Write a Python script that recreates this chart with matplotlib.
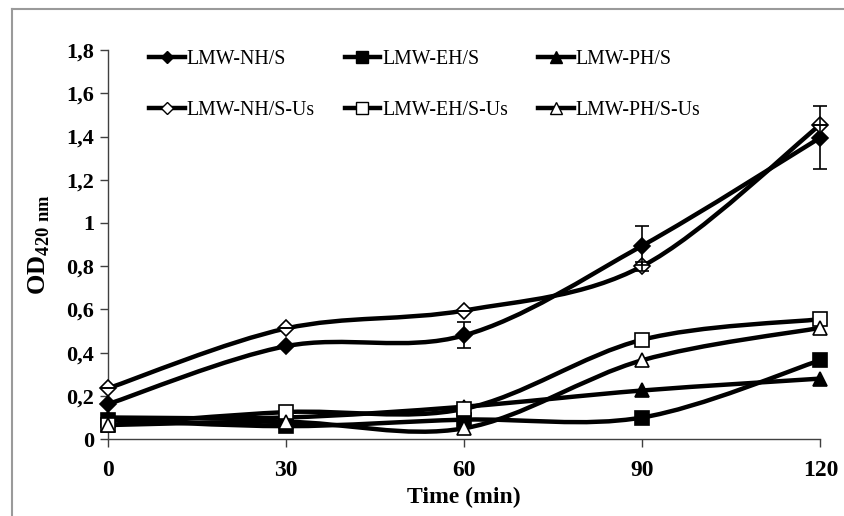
import numpy as np
import matplotlib
matplotlib.use("Agg")
import matplotlib.pyplot as plt
from matplotlib.path import Path
from matplotlib.patches import PathPatch
from matplotlib.lines import Line2D

plt.rcParams['font.family'] = ['Liberation Serif', 'DejaVu Serif']
plt.rcParams['mathtext.fontset'] = 'custom'
plt.rcParams['mathtext.rm'] = 'Liberation Serif'
plt.rcParams['mathtext.bf'] = 'Liberation Serif:bold'

time_min = [0, 30, 60, 90, 120]

nh_s = [0.162, 0.43, 0.48, 0.895, 1.395]
nh_s_err = [0.0, 0.0, 0.06, 0.09, 0.145]
eh_s = [0.09, 0.06, 0.09, 0.10, 0.365]
ph_s = [0.10, 0.10, 0.15, 0.225, 0.28]
nh_us = [0.235, 0.512, 0.595, 0.80, 1.455]
nh_us_err = [0.0, 0.0, 0.0, 0.02, 0.0]
eh_us = [0.065, 0.125, 0.14, 0.46, 0.555]
ph_us = [0.065, 0.08, 0.05, 0.365, 0.515]

labels = ['LMW-NH/S', 'LMW-EH/S', 'LMW-PH/S',
          'LMW-NH/S-Us', 'LMW-EH/S-Us', 'LMW-PH/S-Us']
yticks = [0, 0.2, 0.4, 0.6, 0.8, 1.0, 1.2, 1.4, 1.6, 1.8]
ytick_labels = ['0', '0,2', '0,4', '0,6', '0,8', '1', '1,2', '1,4', '1,6', '1,8']


def smooth_path(x, y):
    # Bezier curve through the points, like spreadsheet "smoothed line"
    pts = np.column_stack([x, y]).astype(float)
    ext = np.vstack([pts[0], pts, pts[-1]])
    verts = [pts[0]]
    codes = [Path.MOVETO]
    for i in range(len(pts) - 1):
        p0, p1, p2, p3 = ext[i], ext[i + 1], ext[i + 2], ext[i + 3]
        verts += [p1 + (p2 - p0) / 6, p2 - (p3 - p1) / 6, p2]
        codes += [Path.CURVE4] * 3
    return Path(verts, codes)


fig = plt.figure(figsize=(8.44, 5.16), dpi=100)
ax = fig.add_axes([0.128, 0.149, 0.844, 0.754])

series = [
    (nh_s, 'D', 'black', 8.5),
    (eh_s, 's', 'black', 10),
    (ph_s, '^', 'black', 10),
    (nh_us, 'D', 'white', 8.5),
    (eh_us, 's', 'white', 10),
    (ph_us, '^', 'white', 10),
]

lw = 3.2
handles = []
for (vals, mk, fc, ms), lab in zip(series, labels):
    patch = PathPatch(smooth_path(time_min, vals), facecolor='none',
                      edgecolor='black', lw=lw, capstyle='round', clip_on=False)
    ax.add_patch(patch)
    handles.append(Line2D([], [], color='black', lw=lw, marker=mk, markersize=ms - 2,
                          markerfacecolor=fc, markeredgecolor='black', label=lab))

for (vals, mk, fc, ms) in series:
    ax.plot(time_min, vals, linestyle='none', marker=mk, markersize=ms,
            markerfacecolor=fc, markeredgecolor='black', markeredgewidth=1.2,
            clip_on=False, zorder=4)

ax.errorbar(time_min, nh_s, yerr=nh_s_err, fmt='none', ecolor='black',
            elinewidth=1.2, capsize=5, capthick=1.2, zorder=5, clip_on=False)
ax.errorbar(time_min, nh_us, yerr=nh_us_err, fmt='none', ecolor='black',
            elinewidth=1.2, capsize=5, capthick=1.2, zorder=5, clip_on=False)

ax.set_xlim(0, 120)
ax.set_ylim(0, 1.8)
ax.set_xticks(time_min)
ax.set_xticklabels([str(t) for t in time_min], fontsize=17, fontweight='bold')
ax.set_yticks(yticks)
ax.set_yticklabels(ytick_labels, fontsize=16, fontweight='bold')
ax.tick_params(axis='both', direction='out', length=6, width=1, color='#404040', pad=4)
ax.tick_params(axis='x', pad=9)
for s in ['top', 'right']:
    ax.spines[s].set_visible(False)
for s in ['left', 'bottom']:
    ax.spines[s].set_color('#404040')
    ax.spines[s].set_linewidth(1)

ax.set_xlabel('Time (min)', fontsize=17, fontweight='bold', labelpad=4)
ax.set_ylabel(r'OD$_{\mathbf{420\ nm}}$', fontsize=19, fontweight='bold', labelpad=10)

# legend fills column-first, so reorder to read row-wise
order = [0, 3, 1, 4, 2, 5]
fig.legend(handles=[handles[i] for i in order], ncol=3, loc='upper left',
           bbox_to_anchor=(141 / 844, 1 - 42 / 516), frameon=False,
           fontsize=14.3, handlelength=1.8, handletextpad=0.1,
           columnspacing=1.5, labelspacing=1.6, borderaxespad=0)

# grey outer frame
fig.add_artist(Line2D([12 / 844, 12 / 844], [0, 1 - 9 / 516], color='#9a9a9a', lw=1.5,
                      transform=fig.transFigure))
fig.add_artist(Line2D([12 / 844, 1], [1 - 9 / 516, 1 - 9 / 516], color='#9a9a9a', lw=1.5,
                      transform=fig.transFigure))

fig.savefig('out.png', dpi=100)
